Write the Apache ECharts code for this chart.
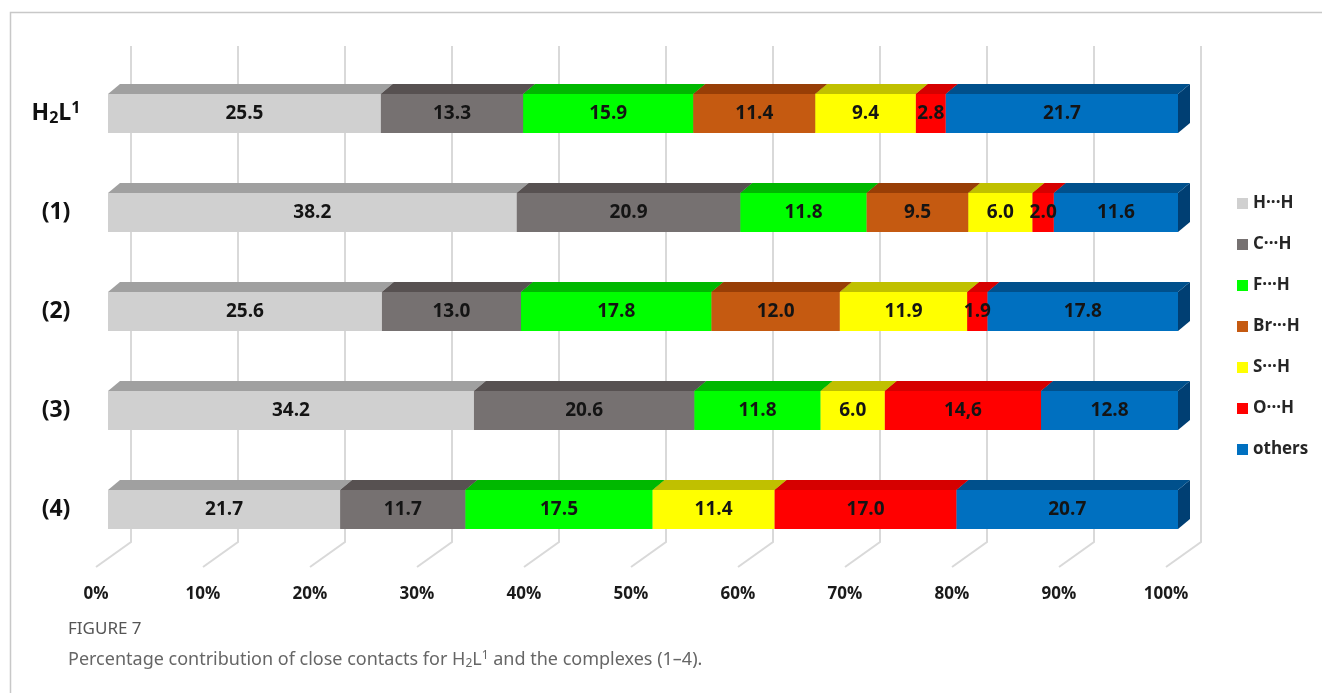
<!DOCTYPE html>
<html>
<head>
<meta charset="utf-8">
<script src="https://cdn.jsdelivr.net/npm/echarts@6/dist/echarts.min.js"></script>
<style>html,body{margin:0;padding:0;background:#fff;}#c{width:1322px;height:693px;}</style>
</head>
<body>
<div id="c"></div>
<script>
// ---- data ----
const categories = ['H2L1', '(1)', '(2)', '(3)', '(4)'];
const seriesNames = ['H\u00b7\u00b7\u00b7H', 'C\u00b7\u00b7\u00b7H', 'F\u00b7\u00b7\u00b7H', 'Br\u00b7\u00b7\u00b7H', 'S\u00b7\u00b7\u00b7H', 'O\u00b7\u00b7\u00b7H', 'others'];
const HH = [25.5, 38.2, 25.6, 34.2, 21.7];
const CH = [13.3, 20.9, 13.0, 20.6, 11.7];
const FH = [15.9, 11.8, 17.8, 11.8, 17.5];
const BrH = [11.4, 9.5, 12.0, 0, 0];
const SH = [9.4, 6.0, 11.9, 6.0, 11.4];
const OH = [2.8, 2.0, 1.9, 14.6, 17.0];
const others = [21.7, 11.6, 17.8, 12.8, 20.7];
const tickValues = [0, 10, 20, 30, 40, 50, 60, 70, 80, 90, 100];
// label text as printed in the figure (series index -> category index -> text)
const labelOverrides = { 5: { 3: '14,6' } };

const allSeries = [HH, CH, FH, BrH, SH, OH, others];
const frontColors = ['#d0d0d0', '#767171', '#00ff00', '#c55a11', '#ffff00', '#ff0000', '#0070c0'];
const topColors   = ['#a0a0a0', '#575151', '#00b800', '#983e06', '#c0c000', '#d60000', '#00508c'];
const sideColors  = ['#9a9a9a', '#4e4949', '#00a000', '#843300', '#a8a800', '#c00000', '#003f73'];

const BAR_H = 39, DX = 12, DY = 10;

// build stacked item lists
const stackedData = allSeries.map(() => []);
const labelData = [];
for (let c = 0; c < categories.length; c++) {
  let acc = 0;
  for (let s = 0; s < allSeries.length; s++) {
    const v = allSeries[s][c];
    stackedData[s].push([c, acc, v]);
    if (v > 0) {
      const txt = (labelOverrides[s] && labelOverrides[s][c]) || v.toFixed(1);
      labelData.push([c, acc, v, txt]);
    }
    acc += v;
  }
}

function barRender(sIdx) {
  return function (params, api) {
    const cat = api.value(0), start = api.value(1), val = api.value(2);
    if (!val) return null;
    const p0 = api.coord([start, cat]);
    const p1 = api.coord([start + val, cat]);
    const x0 = p0[0], x1 = p1[0];
    const yT = p0[1] - BAR_H / 2, yB = p0[1] + BAR_H / 2;
    return {
      type: 'group',
      children: [
        { type: 'polygon', shape: { points: [[x1, yT], [x1 + DX, yT - DY], [x1 + DX, yB - DY], [x1, yB]] }, style: { fill: sideColors[sIdx] } },
        { type: 'polygon', shape: { points: [[x0, yT], [x0 + DX, yT - DY], [x1 + DX, yT - DY], [x1, yT]] }, style: { fill: topColors[sIdx] } },
        { type: 'rect', shape: { x: x0, y: yT, width: x1 - x0, height: BAR_H }, style: { fill: frontColors[sIdx] } }
      ]
    };
  };
}

const series = [];
series.push({
  type: 'custom', name: 'grid', silent: true, z: 1,
  coordinateSystem: 'cartesian2d', xAxisIndex: 0, yAxisIndex: 0,
  encode: { x: 0 },
  data: tickValues.map(v => [v]),
  renderItem: function (params, api) {
    const x = api.coord([api.value(0), 0])[0];
    return { type: 'polyline', shape: { points: [[x + 23, 46], [x + 23, 542], [x - 12, 567]] }, style: { stroke: '#d9d9d9', lineWidth: 2, fill: null } };
  }
});
allSeries.forEach((arr, s) => {
  series.push({
    type: 'custom', name: seriesNames[s], z: 2 + s,
    coordinateSystem: 'cartesian2d', xAxisIndex: 0, yAxisIndex: 0,
    itemStyle: { color: frontColors[s] },
    encode: { x: [1, 2], y: 0 },
    data: stackedData[s],
    renderItem: barRender(s)
  });
});
series.push({
  type: 'custom', name: 'labels', silent: true, z: 20,
  coordinateSystem: 'cartesian2d', xAxisIndex: 0, yAxisIndex: 0,
  encode: { x: [1, 2], y: 0 },
  data: labelData,
  renderItem: function (params, api) {
    const cat = api.value(0), start = api.value(1), val = api.value(2);
    const txt = labelData[params.dataIndex][3];
    const p = api.coord([start + val / 2, cat]);
    return { type: 'text', style: { text: txt, x: p[0], y: p[1], align: 'center', verticalAlign: 'middle', fill: '#141414', font: 'bold 19px "Open Sans", sans-serif' } };
  }
});

const chart = echarts.init(document.getElementById('c'), null, { renderer: 'canvas' });
chart.setOption({
  animation: false,
  backgroundColor: '#ffffff',
  grid: [
    { left: 108, right: 144, top: 64, bottom: 134 },
    { left: 96, right: 156, top: 500, bottom: 115 }
  ],
  xAxis: [
    { type: 'value', gridIndex: 0, min: 0, max: 100, interval: 10, axisLabel: { show: false }, axisLine: { show: false }, axisTick: { show: false }, splitLine: { show: false } },
    { type: 'value', gridIndex: 1, min: 0, max: 100, interval: 10, axisLine: { show: false }, axisTick: { show: false }, splitLine: { show: false },
      axisLabel: { formatter: '{value}%', margin: 8, color: '#1a1a1a', fontWeight: 'bold', fontSize: 17, fontFamily: 'Open Sans' } }
  ],
  yAxis: [
    { type: 'category', gridIndex: 0, inverse: true, data: categories, axisLine: { show: false }, axisTick: { show: false },
      axisLabel: {
        margin: 52, align: 'center',
        formatter: function (v) { return v === 'H2L1' ? '{b|H}{sub|2}{b|L}{sup|1}' : '{b|' + v + '}'; },
        rich: {
          b: { fontSize: 23, fontWeight: 'bold', color: '#111', fontFamily: 'Open Sans', lineHeight: 32 },
          sub: { fontSize: 16, fontWeight: 'bold', color: '#111', fontFamily: 'Open Sans', lineHeight: 16, verticalAlign: 'bottom', padding: [0, 0, 3, 0] },
          sup: { fontSize: 16, fontWeight: 'bold', color: '#111', fontFamily: 'Open Sans', lineHeight: 16, verticalAlign: 'top', padding: [3, 0, 0, 0] }
        }
      } },
    { type: 'value', gridIndex: 1, show: false }
  ],
  legend: {
    orient: 'vertical', left: 1232, top: 190, itemWidth: 11, itemHeight: 11, itemGap: 24, icon: 'rect',
    data: seriesNames,
    textStyle: { fontSize: 17, fontWeight: 'bold', color: '#262626', fontFamily: 'Open Sans' }
  },
  title: [
    { text: 'FIGURE 7', left: 63, top: 616, textStyle: { fontSize: 17, fontWeight: 'normal', color: '#555', fontFamily: 'Noto Sans' } },
    { text: '{t|Percentage contribution of close contacts for H}{s|2}{t|L}{p|1}{t| and the complexes (1\u20134).}', left: 63, top: 643,
      textStyle: { fontWeight: 'normal', rich: {
        t: { fontSize: 18, fontWeight: 'normal', color: '#666', fontFamily: 'Noto Sans', lineHeight: 24 },
        s: { fontSize: 12, fontWeight: 'normal', color: '#666', fontFamily: 'Noto Sans', lineHeight: 12, verticalAlign: 'bottom', padding: [0, 0, 2, 0] },
        p: { fontSize: 12, fontWeight: 'normal', color: '#666', fontFamily: 'Noto Sans', lineHeight: 12, verticalAlign: 'top', padding: [2, 0, 0, 0] }
      } } }
  ],
  graphic: [
    { type: 'polyline', silent: true, shape: { points: [[10.5, 693], [10.5, 12.5], [1322, 12.5]] }, style: { stroke: '#c8c8c8', lineWidth: 1.5, fill: null } }
  ],
  series: series
});
</script>
</body>
</html>
